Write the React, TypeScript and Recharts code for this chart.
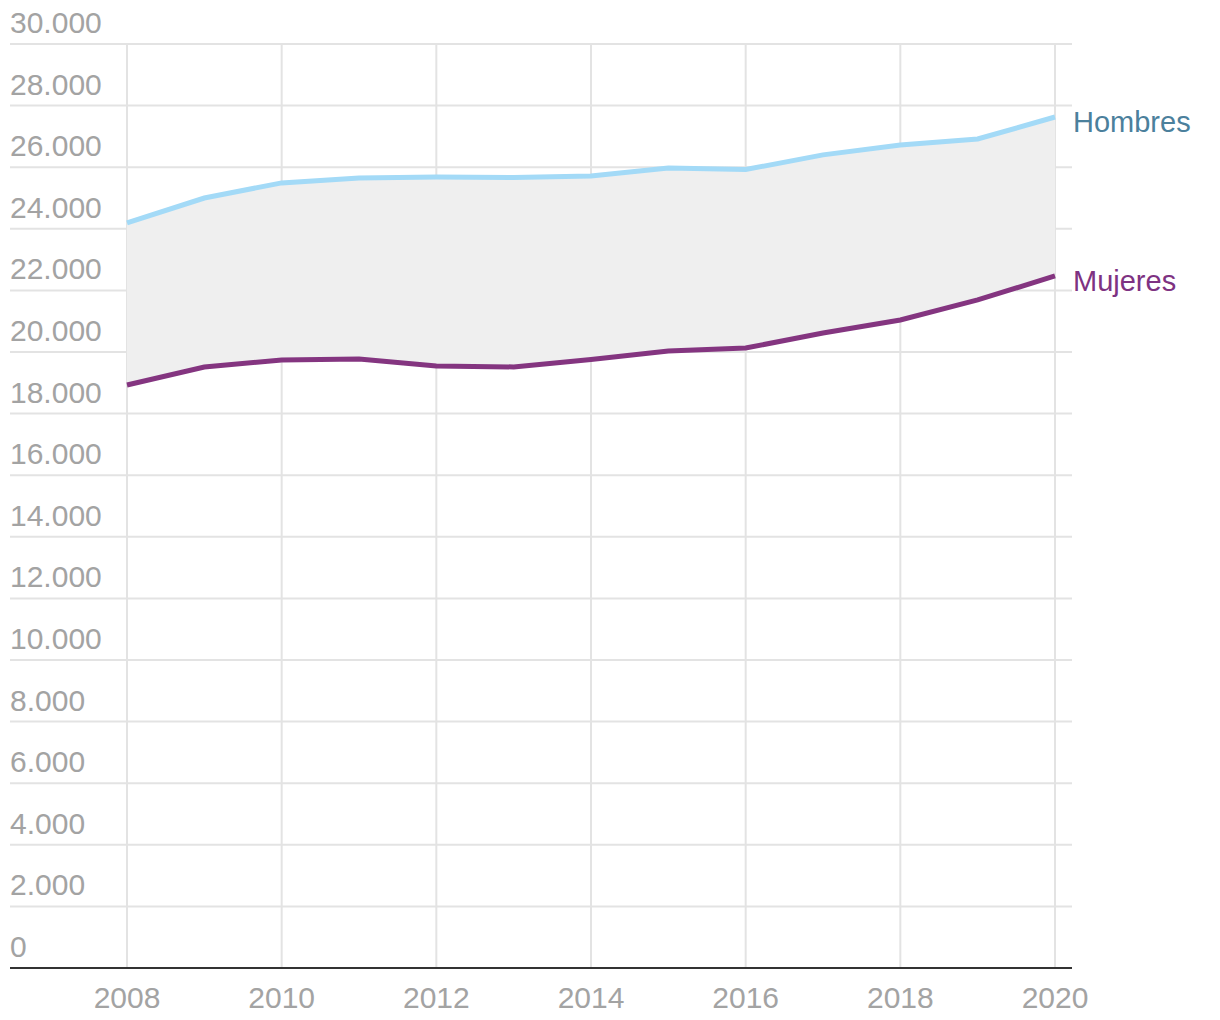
import {
  ComposedChart,
  Line,
  Area,
  XAxis,
  YAxis,
  CartesianGrid,
} from "recharts";

const years = [2008, 2009, 2010, 2011, 2012, 2013, 2014, 2015, 2016, 2017, 2018, 2019, 2020];
const hombres = [24190, 25000, 25490, 25650, 25680, 25665, 25715, 25975, 25925, 26400, 26720, 26915, 27630];
const mujeres = [18930, 19510, 19740, 19770, 19545, 19515, 19755, 20030, 20130, 20615, 21040, 21690, 22470];

const yTicks = [0, 2000, 4000, 6000, 8000, 10000, 12000, 14000, 16000, 18000, 20000, 22000, 24000, 26000, 28000, 30000];
const xTicks = [2008, 2010, 2012, 2014, 2016, 2018, 2020];

const FONT = "'Liberation Sans', Arial, sans-serif";
const GREY = "#a3a3a3";
const HOMBRES_COLOR = "#a3daf7";
const MUJERES_COLOR = "#843580";

const data = years.map((y, i) => ({
  year: y,
  hombres: hombres[i],
  mujeres: mujeres[i],
  range: [mujeres[i], hombres[i]],
}));

// numbers like 30.000 (Spanish thousands separator)
const fmt = (v: number) => v.toLocaleString("de-DE");

const YTick = (props: any) => {
  const { x, y, payload } = props;
  return (
    <text x={x} y={y - 11} textAnchor="start" fill={GREY} fontSize={30} fontFamily={FONT}>
      {fmt(payload.value)}
    </text>
  );
};

const XTick = (props: any) => {
  const { x, y, payload } = props;
  return (
    <text x={x} y={y + 38} textAnchor="middle" fill={GREY} fontSize={30} fontFamily={FONT}>
      {payload.value}
    </text>
  );
};

const endLabel = (name: string, color: string) => (props: any) => {
  const { x, y, index } = props;
  if (index !== years.length - 1) return null;
  return (
    <text x={x + 18} y={y + 15} fill={color} fontSize={29} fontFamily={FONT}>
      {name}
    </text>
  );
};

export default function App() {
  return (
    <div style={{ position: "absolute", left: 0, top: 0, width: 1220, height: 1020, background: "#fff" }}>
      <ComposedChart
        width={1220}
        height={1020}
        data={data}
        margin={{ top: 44, right: 148, bottom: 0, left: 9 }}
      >
        <CartesianGrid stroke="#e3e3e3" strokeWidth={2} syncWithTicks />
        <XAxis
          dataKey="year"
          type="number"
          domain={[2008, 2020]}
          ticks={xTicks}
          padding={{ left: 117, right: 17 }}
          tickLine={false}
          axisLine={{ stroke: "#333", strokeWidth: 2 }}
          tick={<XTick />}
          tickSize={0}
          height={52}
        />
        <YAxis
          domain={[0, 30000]}
          ticks={yTicks}
          width={1}
          axisLine={false}
          tickLine={false}
          tickSize={0}
          tickMargin={0}
          tick={<YTick />}
          interval={0}
        />
        <Area
          dataKey="range"
          type="linear"
          fill="#efefef"
          fillOpacity={1}
          stroke="none"
          isAnimationActive={false}
        />
        <Line
          dataKey="hombres"
          type="linear"
          stroke={HOMBRES_COLOR}
          strokeWidth={5}
          dot={false}
          isAnimationActive={false}
          label={endLabel("Hombres", "#4b809c")}
        />
        <Line
          dataKey="mujeres"
          type="linear"
          stroke={MUJERES_COLOR}
          strokeWidth={5}
          dot={false}
          isAnimationActive={false}
          label={endLabel("Mujeres", "#7e3282")}
        />
      </ComposedChart>
    </div>
  );
}
